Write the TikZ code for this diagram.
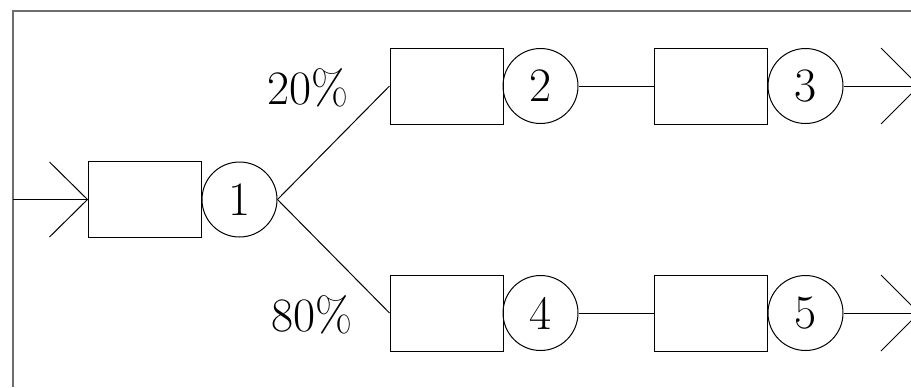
\documentclass[tikz,border=0pt]{standalone}
\usetikzlibrary{calc}
\begin{document}
\begin{tikzpicture}[x=0.5pt,y=-0.5pt,
  every node/.style={font=\fontsize{24}{29}\selectfont},
  srv/.style={draw,line width=0.5pt,minimum width=56.5pt,minimum height=38pt,inner sep=0pt},
  que/.style={draw,circle,line width=0.5pt,minimum size=37.5pt,inner sep=0pt},
  conn/.style={line width=0.5pt},
  frame/.style={line width=1pt,draw={rgb,255:red,110;green,110;blue,110}}]
\useasboundingbox (0,0) rectangle (911,387);
\clip (0,0) rectangle (911,387);
\draw[frame] (12.5,387) -- (12.5,10.5) -- (911,10.5);
% nodes
\node[srv] (b1) at (144.5,199.5) {};
\node[que] (c1) at (239.5,199.5) {1};
\node[srv] (b2) at (446.5,86) {};
\node[que] (c2) at (540.5,86) {2};
\node[srv] (b3) at (711,86) {};
\node[que] (c3) at (805.5,86) {3};
\node[srv] (b4) at (446.5,313) {};
\node[que] (c4) at (540.5,313) {4};
\node[srv] (b5) at (711,313) {};
\node[que] (c5) at (805.5,313) {5};
\node (p20) at (308,88) {20\%};
\node (p80) at (312,315) {80\%};
\coordinate (in) at (12.5,199.5);
\coordinate (o1) at (919,86);
\coordinate (o2) at (919,313);
% connectors
\draw[conn] (in) -- (b1.west);
\draw[conn] ($(b1.west)+(-38,-37.5)$) -- (b1.west) -- ($(b1.west)+(-38,37.5)$);
\draw[conn] (c1.east) -- (b2.west);
\draw[conn] (c1.east) -- (b4.west);
\draw[conn] (c2.east) -- (b3.west);
\draw[conn] (c4.east) -- (b5.west);
\draw[conn] (c3.east) -- (o1);
\draw[conn] ($(o1)+(-38,-38)$) -- (o1) -- ($(o1)+(-38,38)$);
\draw[conn] (c5.east) -- (o2);
\draw[conn] ($(o2)+(-38,-38)$) -- (o2) -- ($(o2)+(-38,38)$);
\end{tikzpicture}
\end{document}
